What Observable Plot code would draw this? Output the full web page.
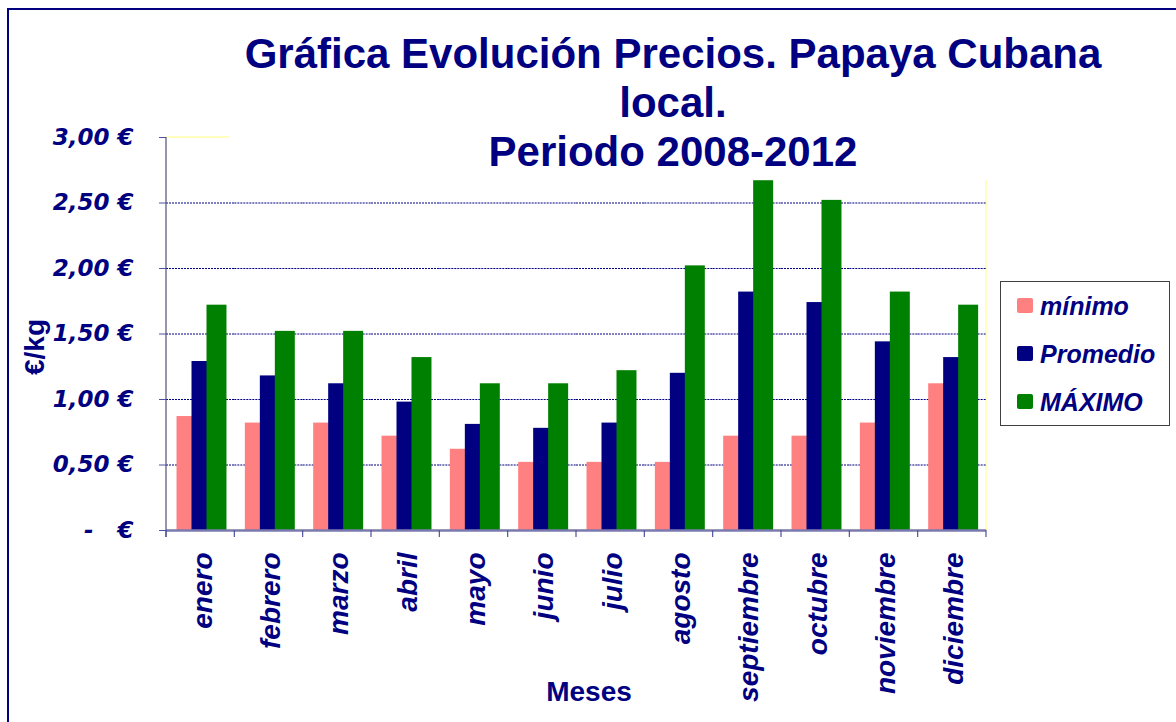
<!DOCTYPE html>
<html><head><meta charset="utf-8">
<script src="https://cdn.jsdelivr.net/npm/d3@7"></script>
<script src="https://cdn.jsdelivr.net/npm/@observablehq/plot@0.6"></script>
<style>
body{margin:0;background:#fff;overflow:hidden}
#wrap{position:relative;width:1176px;height:722px;overflow:hidden;background:#fff}
#border{position:absolute;left:7px;top:8px;width:1300px;height:900px;border:2.5px solid #000080}
#wrap svg{position:absolute;left:0;top:0}
</style></head><body><div id="wrap"><div id="border"></div></div>
<script>
const months = ["enero","febrero","marzo","abril","mayo","junio","julio","agosto","septiembre","octubre","noviembre","diciembre"];
const seriesNames = ["mínimo","Promedio","MÁXIMO"];
const minimo   = [0.87,0.82,0.82,0.72,0.62,0.52,0.52,0.52,0.72,0.72,0.82,1.12];
const promedio = [1.29,1.18,1.12,0.98,0.81,0.78,0.82,1.20,1.82,1.74,1.44,1.32];
const maximo   = [1.72,1.52,1.52,1.32,1.12,1.12,1.22,2.02,2.67,2.52,1.82,1.72];
const colors = ["#FF8080","#000080","#008000"];
const yTicks = [0,0.5,1,1.5,2,2.5,3];
const gridTicks = [0.5,1,1.5,2,2.5];
const titleLines = ["Gráfica Evolución Precios. Papaya Cubana","local.","Periodo 2008-2012"];
const yLabel = "€/kg";
const xLabel = "Meses";

const NAVY = "#000080";
const values = [minimo, promedio, maximo];
const rows = months.flatMap((m,i) => seriesNames.map((s,j) => ({month:m, series:s, value:values[j][i]})));
const fmt = d => d === 0 ? "-   €" : d.toFixed(2).replace(".", ",") + " €";

const wrap = document.getElementById("wrap");

const chart = Plot.plot({
  width:1176, height:722,
  marginTop:137, marginBottom:192, marginLeft:166, marginRight:190,
  style:{background:"transparent", overflow:"visible"},
  fx:{domain:months, padding:0, round:false, axis:null, label:null},
  x:{domain:seriesNames, paddingInner:0, paddingOuter:0.78, align:0.45, round:false, axis:null},
  y:{domain:[0,3], axis:null, label:null},
  color:{domain:seriesNames, range:colors},
  marks:[
    Plot.gridY(gridTicks, {stroke:NAVY, strokeOpacity:1, strokeDasharray:"2 1"}),
    Plot.barY(rows, {fx:"month", x:"series", y:"value", fill:"series", insetRight:-5}),
    Plot.ruleY([0], {stroke:"#7a7ab0", strokeWidth:2.5}),
    Plot.axisY(yTicks, {tickFormat:fmt, tickSize:7, tickPadding:26, stroke:"#5050a0", fill:NAVY,
      fontFamily:"DejaVu Sans", fontSize:23, fontWeight:"bold", fontStyle:"italic", label:null}),
    Plot.text(months, {fx:d=>d, text:d=>d, frameAnchor:"bottom", rotate:-90, textAnchor:"end", lineAnchor:"bottom",
      dx:11, dy:22, fill:NAVY, fontFamily:"Liberation Sans, Arial", fontSize:28, fontWeight:"bold", fontStyle:"italic"})
  ]
});

// background layer: pale yellow plot-area frame
const fxs = chart.scale("fx"), ys = chart.scale("y");
const [r0, r1] = fxs.range;
const yBottom = Math.max(...ys.range), yTop = Math.min(...ys.range);
const bg = d3.create("svg").attr("width",1176).attr("height",722);
bg.append("rect").attr("x", r0).attr("y", yTop).attr("width", r1 - r0).attr("height", yBottom - yTop)
  .attr("fill","none").attr("stroke","#FFFFC0").attr("stroke-width",2);
wrap.appendChild(bg.node());
wrap.appendChild(chart);

// axis line and category boundary ticks from the plot's scales
const band = d3.scaleBand(fxs.domain, fxs.range).paddingInner(0).paddingOuter(0);
const s = d3.select(chart);
const g = s.append("g").attr("stroke","#5050a0").attr("stroke-width",1.2);
g.append("line").attr("x1", r0).attr("x2", r0).attr("y1", yTop).attr("y2", yBottom + 7);
const bounds = months.map(m => band(m)).concat([band(months[months.length-1]) + band.bandwidth()]);
g.selectAll("line.b").data(bounds).join("line").attr("class","b")
  .attr("x1", d => d).attr("x2", d => d).attr("y1", yBottom).attr("y2", yBottom + 7);

// overlay: title, legend, axis titles
const ov = d3.create("svg").attr("width",1176).attr("height",722).style("pointer-events","none");
ov.append("rect").attr("x",230).attr("y",20).attr("width",890).attr("height",160).attr("fill","#fff");
ov.append("text").attr("text-anchor","middle").attr("fill",NAVY)
  .style("font","bold 42px 'Liberation Sans', Arial")
  .selectAll("tspan").data(titleLines).join("tspan")
  .attr("x",673).attr("y",(d,i) => 68 + i*49).text(d => d);

const lg = ov.append("g");
lg.append("rect").attr("x",1000.5).attr("y",281.5).attr("width",169).attr("height",144)
  .attr("fill","#fff").attr("stroke","#404040").attr("stroke-width",1);
seriesNames.forEach((name,i) => {
  lg.append("rect").attr("x",1017).attr("y",298 + i*48).attr("width",16).attr("height",15).attr("rx",2).attr("fill",colors[i]);
  lg.append("text").attr("x",1040).attr("y",315 + i*48).attr("fill",NAVY)
    .style("font","italic bold 25px 'Liberation Sans', Arial").text(name);
});
ov.append("text").attr("transform","translate(44,347) rotate(-90)").attr("text-anchor","middle").attr("fill",NAVY)
  .style("font","bold 28px 'Liberation Sans', Arial").text(yLabel);
ov.append("text").attr("x",589).attr("y",701).attr("text-anchor","middle").attr("fill",NAVY)
  .style("font","bold 28px 'Liberation Sans', Arial").text(xLabel);
wrap.appendChild(ov.node());
</script></body></html>
